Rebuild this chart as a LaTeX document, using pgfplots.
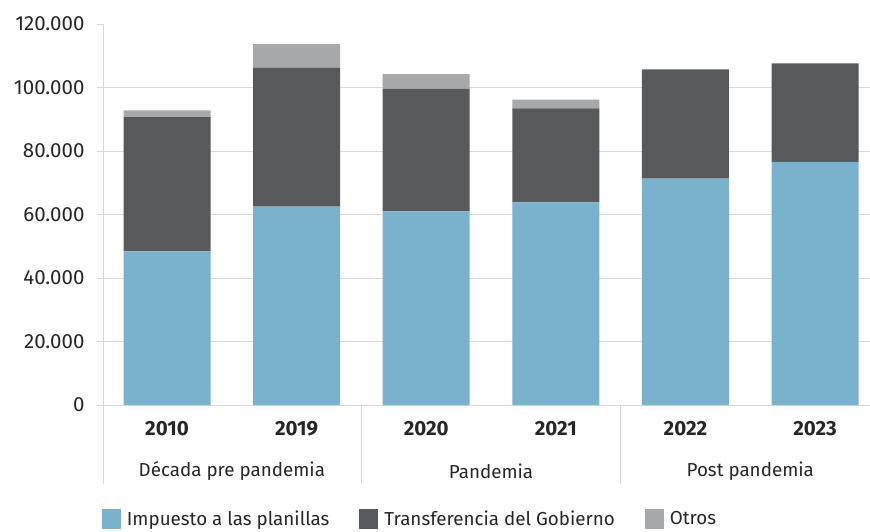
\documentclass[border=0pt]{standalone}
\usepackage{pgfplots}
\pgfplotsset{compat=1.18}
\usepackage{fontspec}
\setmainfont{Fira Sans}
\definecolor{cblue}{HTML}{7AB1CC}
\definecolor{cdark}{HTML}{58595B}
\definecolor{cgray}{HTML}{A7A8AA}
\definecolor{ctext}{HTML}{262626}
\definecolor{cgrid}{HTML}{D9D9D9}
\newcommand{\lbl}{\fontsize{18.8}{22}\selectfont}
\newcommand{\tlbl}{\fontsize{20.5}{24}\selectfont}
\begin{document}
\begin{tikzpicture}
\path[use as bounding box] (-103pt,-126pt) rectangle (767pt,405pt);
\begin{axis}[
  at={(0pt,0pt)}, anchor=south west,
  scale only axis, width=767pt, height=381pt,
  xmin=-0.494, xmax=5.424, ymin=0, ymax=120000,
  ybar stacked, bar width=87pt,
  clip=false,
  axis x line*=bottom, axis y line*=left,
  axis line style={draw=cgrid, line width=0.9pt, -},
  ytick={0,20000,40000,60000,80000,100000},
  extra y ticks={120000}, extra y tick style={grid=none},
  ymajorgrids, grid style={cgrid, line width=0.9pt},
  tick align=outside, major tick length=6pt,
  ytick style={draw=cgrid, line width=0.9pt},
  xtick={0,1,2,3,4,5},
  xticklabels={2010,2019,2020,2021,2022,2023},
  xtick style={draw=none},
  scaled y ticks=false,
  /pgf/number format/fixed, /pgf/number format/precision=0,
  /pgf/number format/1000 sep={.},
  /pgf/number format/assume math mode=true,
  tick label style={font=\tlbl, text=ctext},
  xticklabel style={font=\tlbl\bfseries, yshift=-7pt},
  yticklabel style={xshift=-9pt},
  legend columns=3,
  legend style={at={(0.4003,-0.299)}, anchor=center, draw=none, fill=none,
    font=\lbl, text=ctext, inner sep=0pt,
    /tikz/every odd column/.append style={column sep=4pt},
    /tikz/every even column/.append style={column sep=28pt}},
  every axis plot post/.append style={draw=none},
]
\addplot+[fill=cblue, legend image code/.code={\fill[cblue] (0pt,-10pt) rectangle (19pt,10pt);}] coordinates {(0,48400) (1,62500) (2,61000) (3,63800) (4,71300) (5,76600)};
\addplot+[fill=cdark, legend image code/.code={\fill[cdark] (0pt,-10pt) rectangle (19pt,10pt);}] coordinates {(0,42300) (1,43700) (2,38600) (3,29600) (4,34400) (5,31000)};
\addplot+[fill=cgray, legend image code/.code={\fill[cgray] (0pt,-10pt) rectangle (19pt,10pt);}] coordinates {(0,2100) (1,7500) (2,4600) (3,2800) (4,0) (5,0)};
\legend{Impuesto a las planillas, Transferencia del Gobierno, Otros}
\draw[cgrid, line width=0.9pt] (axis cs:-0.494,0) -- ([yshift=-79pt]axis cs:-0.494,0);
\draw[cgrid, line width=0.9pt] (axis cs:1.5,0) -- ([yshift=-79pt]axis cs:1.5,0);
\draw[cgrid, line width=0.9pt] (axis cs:3.5,0) -- ([yshift=-79pt]axis cs:3.5,0);
\node[font=\lbl, text=ctext, yshift=-66pt] at (axis cs:0.5,0) {Década pre pandemia};
\node[font=\lbl, text=ctext, yshift=-66pt] at (axis cs:2.5,0) {Pandemia};
\node[font=\lbl, text=ctext, yshift=-66pt] at (axis cs:4.5,0) {Post pandemia};
\end{axis}
\end{tikzpicture}
\end{document}
